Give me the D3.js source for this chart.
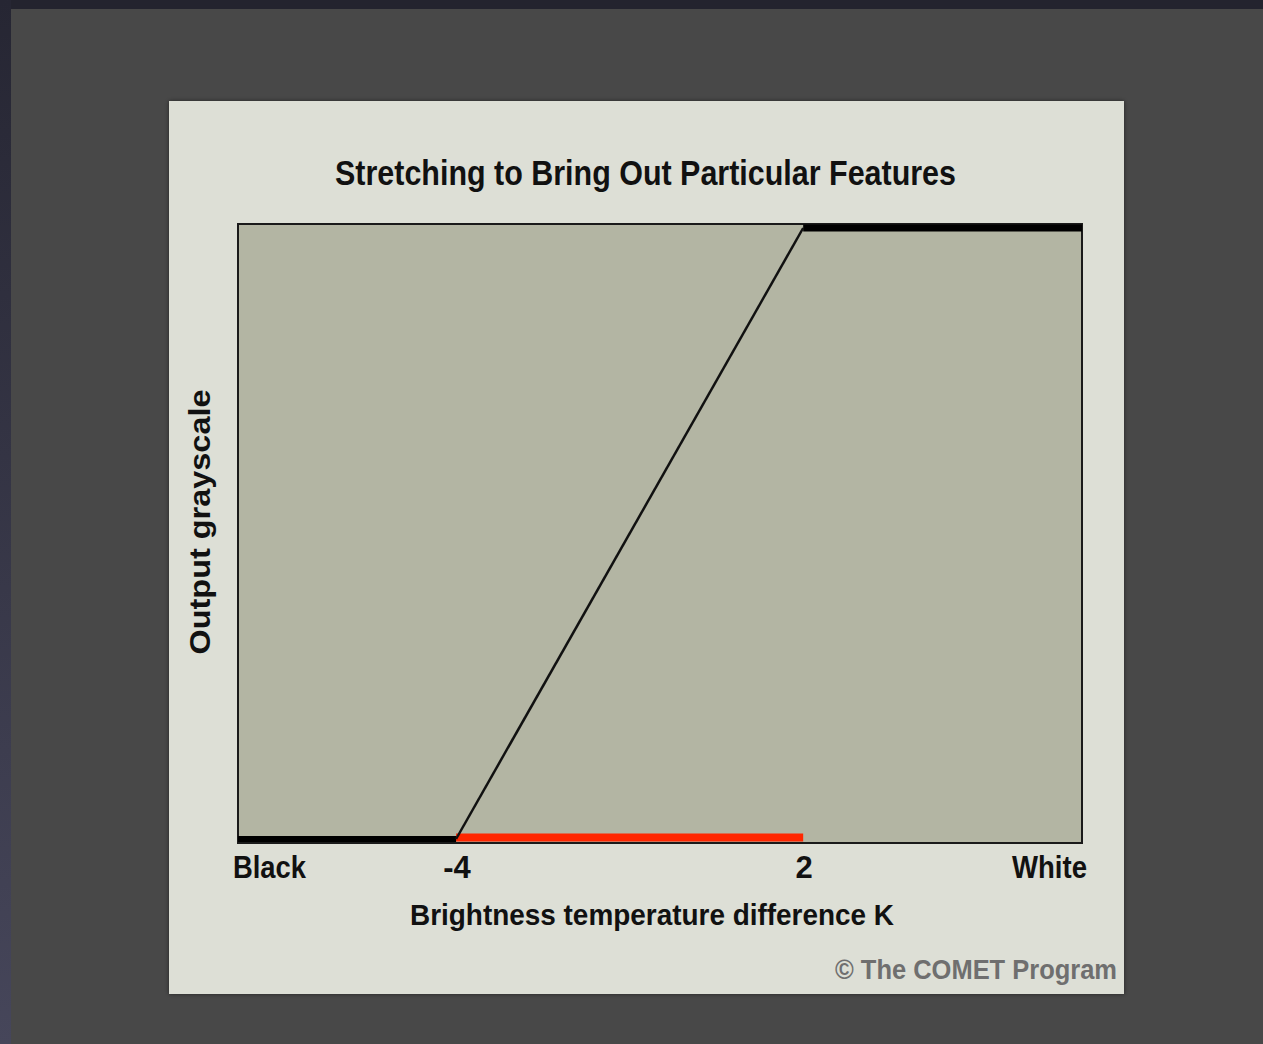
<!DOCTYPE html>
<html>
<head>
<meta charset="utf-8">
<script src="https://cdn.jsdelivr.net/npm/d3@7"></script>
<style>
  html, body { margin: 0; padding: 0; background: #474747; }
  svg { display: block; }
</style>
</head>
<body>
<svg id="chart" width="1263" height="1044"></svg>
<script>
// ---- data ----
const titleText = "Stretching to Bring Out Particular Features";
const xAxisTitle = "Brightness temperature difference K";
const yAxisTitle = "Output grayscale";
const creditText = "\u00A9 The COMET Program";
const xDomain = [-7.77, 6.82];              // input range shown (Black .. White)
const tickValues = [-4, 2];                 // numbered ticks
const tickLabels = ["-4", "2"];
const endLabels = ["Black", "White"];
const curveX = [-7.77, -4, 2, 6.82];        // stretch curve input
const curveY = [0, 0, 1, 1];                // stretch curve output (0 = black, 1 = white)
const stretchRange = [-4, 2];               // highlighted input range

// ---- layout ----
const W = 1263, H = 1044;
const svg = d3.select("#chart");
const fontFam = "'Liberation Sans Narrow', 'Liberation Sans', Arial, sans-serif";

// page frame
const defs = svg.append("defs");
const lg = defs.append("linearGradient").attr("id", "leftEdge").attr("x1", 0).attr("y1", 0).attr("x2", 0).attr("y2", 1);
lg.append("stop").attr("offset", "0%").attr("stop-color", "#262633");
lg.append("stop").attr("offset", "100%").attr("stop-color", "#46465a");
const sh = defs.append("filter").attr("id", "shadow").attr("x", "-5%").attr("y", "-5%").attr("width", "110%").attr("height", "110%");
sh.append("feDropShadow").attr("dx", 0).attr("dy", 0).attr("stdDeviation", 2).attr("flood-color", "#000").attr("flood-opacity", 0.5);

svg.append("rect").attr("x", 0).attr("y", 0).attr("width", W).attr("height", H).attr("fill", "#484848");
svg.append("rect").attr("x", 0).attr("y", 0).attr("width", W).attr("height", 9).attr("fill", "#23232e");
svg.append("rect").attr("x", 0).attr("y", 0).attr("width", 11).attr("height", H).attr("fill", "url(#leftEdge)");

// panel
svg.append("rect").attr("x", 169).attr("y", 101).attr("width", 955).attr("height", 893)
  .attr("fill", "#dddfd6").attr("filter", "url(#shadow)");

// plot area
const plot = { left: 238, right: 1082, top: 224, bottom: 843 };
const x = d3.scaleLinear().domain(xDomain).range([plot.left, plot.right]);
const y = d3.scaleLinear().domain([0, 1]).range([839, 228]);

svg.append("rect").attr("x", plot.left).attr("y", plot.top)
  .attr("width", plot.right - plot.left).attr("height", plot.bottom - plot.top)
  .attr("fill", "#b3b5a3").attr("stroke", "#1a1a1a").attr("stroke-width", 2);

// red stretch bar
svg.append("line")
  .attr("x1", x(stretchRange[0])).attr("x2", x(stretchRange[1]))
  .attr("y1", y(0) - 1.5).attr("y2", y(0) - 1.5)
  .attr("stroke", "#ff2600").attr("stroke-width", 8);

// curve
const pts = curveX.map((d, i) => [d, curveY[i]]);
const line = d3.line().x(d => x(d[0])).y(d => y(d[1]));
// flat (clipped) segments thick
svg.append("path").attr("d", line(pts.slice(0, 2))).attr("fill", "none")
  .attr("stroke", "#000").attr("stroke-width", 6);
svg.append("path").attr("d", line(pts.slice(2, 4))).attr("fill", "none")
  .attr("stroke", "#000").attr("stroke-width", 7);
svg.append("path").attr("d", line(pts.slice(1, 3))).attr("fill", "none")
  .attr("stroke", "#111").attr("stroke-width", 2.5);

// title
svg.append("text").attr("x", 645.5).attr("y", 185)
  .attr("text-anchor", "middle").attr("font-family", fontFam).attr("font-weight", "bold")
  .attr("font-size", 35).attr("fill", "#111")
  .attr("textLength", 621).attr("lengthAdjust", "spacingAndGlyphs")
  .text(titleText);

// tick labels
const tickG = svg.append("g").attr("font-family", fontFam).attr("font-weight", "bold")
  .attr("font-size", 31).attr("fill", "#111");
tickG.selectAll("text.tick").data(tickValues).join("text").attr("class", "tick")
  .attr("x", d => x(d) + 1).attr("y", 878).attr("text-anchor", "middle")
  .text((d, i) => tickLabels[i]);
tickG.append("text").attr("x", 233).attr("y", 878).attr("text-anchor", "start")
  .attr("textLength", 73).attr("lengthAdjust", "spacingAndGlyphs").text(endLabels[0]);
tickG.append("text").attr("x", 1087).attr("y", 878).attr("text-anchor", "end")
  .attr("textLength", 75).attr("lengthAdjust", "spacingAndGlyphs").text(endLabels[1]);

// x axis title
svg.append("text").attr("x", 652).attr("y", 925).attr("text-anchor", "middle")
  .attr("font-family", fontFam).attr("font-weight", "bold").attr("font-size", 30).attr("fill", "#111")
  .attr("textLength", 484).attr("lengthAdjust", "spacingAndGlyphs")
  .text(xAxisTitle);

// y axis title
svg.append("text").attr("transform", "translate(210,522) rotate(-90)").attr("text-anchor", "middle")
  .attr("font-family", fontFam).attr("font-weight", "bold").attr("font-size", 30).attr("fill", "#111")
  .attr("textLength", 265).attr("lengthAdjust", "spacingAndGlyphs")
  .text(yAxisTitle);

// credit
svg.append("text").attr("x", 1117).attr("y", 979).attr("text-anchor", "end")
  .attr("font-family", fontFam).attr("font-weight", "bold").attr("font-size", 28).attr("fill", "#6f6f6f")
  .attr("textLength", 282).attr("lengthAdjust", "spacingAndGlyphs")
  .text(creditText);
</script>
</body>
</html>
